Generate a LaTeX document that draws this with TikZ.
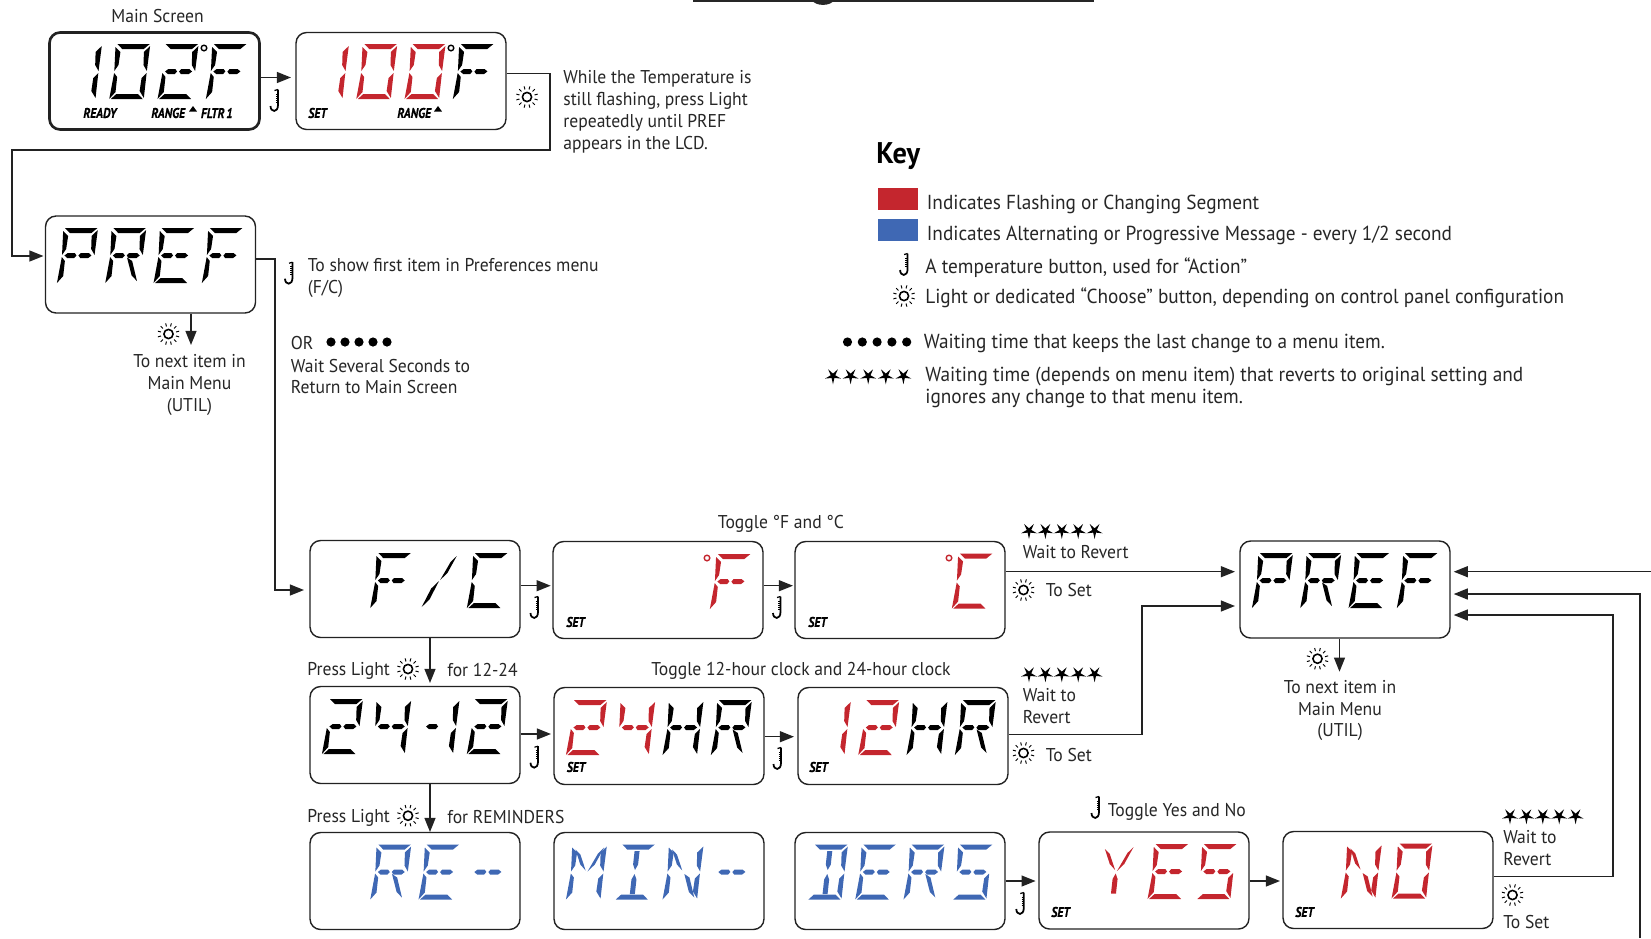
\documentclass[tikz,border=0pt]{standalone}
\usepackage{fontspec}
\setmainfont[FakeStretch=0.95]{PT Sans}
\newfontfamily\lcdlab[FakeStretch=0.84,FakeBold=0.6]{PT Sans}
\usetikzlibrary{arrows.meta,calc}
\def\sega{(1.5,0)--(34,0)--(28.5,5)--(7,5)--cycle}
\def\segd{(6,50)--(27.5,50)--(33,55)--(1,55)--cycle}
\def\segf{(0,3)--(5.5,8)--(5,21)--(1.5,27)--cycle}
\def\sege{(1.5,29)--(5,33)--(5,48)--(-0.5,55)--cycle}
\def\segb{(34.5,2)--(34,27)--(30,21)--(29,8)--cycle}
\def\segc{(34,29)--(34,54)--(29,47)--(29.5,34)--cycle}
\def\segp{(4,27.5)--(7,25)--(14,25)--(16,27.5)--(14,30)--(7,30)--cycle}
\def\segq{(18,27.5)--(20,25)--(28,25)--(31,27.5)--(28,30)--(20,30)--cycle}
\def\segi{(14.5,6.5)--(19.5,6.5)--(19.5,20)--(17,25.5)--(14.5,20)--cycle}
\def\segl{(17,29.5)--(19.5,35)--(19.5,49.5)--(14.5,49.5)--(14.5,35)--cycle}
\def\segh{(3.5,5)--(9,10)--(16,26)--(10,20)--cycle}
\def\segj{(32,3)--(26.5,9)--(18,27)--(24.5,20)--cycle}
\def\segk{(17,28)--(10,35.5)--(2.5,54)--(9.5,46.5)--cycle}
\def\segm{(18.5,29.5)--(24,33)--(31,53)--(25,47.5)--cycle}
\def\chZero{a,b,c,d,e,f}
\def\chOne{b,c}
\def\chTwo{a,b,p,q,e,d}
\def\chFour{f,p,q,b,c}
\def\chF{a,f,e,p,q}
\def\chC{a,f,e,d}
\def\chP{a,f,b,e,p,q}
\def\chR{a,f,b,e,p,q,m}
\def\chE{a,f,e,d,p,q}
\def\chH{f,e,b,c,p,q}
\def\chM{f,e,b,c,h,j}
\def\chI{a,d,i,l}
\def\chN{f,e,b,c,h,m}
\def\chS{a,f,p,q,c,d}
\def\chY{h,j,l}
\def\chD{a,d,b,c,i,l}
\def\chSlash{j,k}
\def\chDash{p}
\def\chDDash{p,q}
\newcommand\lcdch[5]{%
  \begin{scope}[shift={({#1+18.5+48.3*#3},{#2+12})},xslant=0.11]
    \foreach \sname in #5 {%
      \expandafter\let\expandafter\segcur\csname seg\sname\endcsname
      \fill[#4] \segcur;
    }
  \end{scope}}
\newcommand\stars[3]{%
  \foreach \k in {0,1,2,3,4} {%
    \fill[black,shift={({#1+#3*\k},#2)}] (90:8.3)--(126:2.4)--(162:8.3)--(198:2.4)--(234:8.3)--(270:2.4)--(306:8.3)--(342:2.4)--(18:8.3)--(54:2.4)--cycle;
  }}
\newcommand\ledots[3]{%
  \foreach \k in {0,1,2,3,4} {\fill[black] ({#1+#3*\k},#2) circle[radius=4.6];}}
\definecolor{lcdred}{HTML}{C4262E}
\definecolor{lcdblue}{HTML}{3F68B4}
\definecolor{wire}{HTML}{222222}
\tikzset{
  disp/.style={draw=wire,line width=0.8pt,rounded corners=6pt,minimum width=4.2cm,minimum height=1.94cm,inner sep=0pt},
  dispthick/.style={disp,line width=1.5pt},
  lab/.style={anchor=west,inner sep=0pt,align=left,font=\fontsize{10.55}{12.5}\selectfont,text=black!85},
  cen/.style={anchor=center,inner sep=0pt,align=center,font=\fontsize{10.55}{12.5}\selectfont,text=black!85},
  keylab/.style={lab,font=\fontsize{11.55}{12.5}\selectfont},
  tiny/.style={anchor=west,inner sep=0pt,font=\lcdlab\bfseries\itshape\fontsize{8}{8}\selectfont},
  wirearrow/.style={draw=wire,line width=0.85pt,-{Triangle[length=8pt,width=6.2pt]}},
  pics/sunicon/.style={code={
    \draw[black,line width=0.9pt] (0,0) circle[radius=4.6];
    \foreach \aa in {0,30,...,330} {\draw[black,line width=0.55pt] (\aa+15:7.8) -- (\aa+15:11);}
  }},
  pics/thermoicon/.style={code={
    \draw[black,line width=1pt] (3,-10.5) -- (3,5) .. controls (3,13) and (-4.5,12.5) .. (-4.5,6);
    \foreach \yy in {-6,-4,-2,0,2} {\draw[black,line width=0.35pt] (0.8,\yy) -- (3,\yy);}
    \draw[black,line width=0.7pt] (-0.5,-9.5) -- (3,-10.5);
  }},
  pics/uptri/.style={code={\fill[black] (-4,2.5)--(4,2.5)--(0,-3)--cycle;}},
}
\begin{document}
\begin{tikzpicture}[x=0.02cm,y=-0.02cm]
\useasboundingbox (0,0) rectangle (1651,938);
% top fragment
\coordinate (topL) at (693,1);
\coordinate (topR) at (1094,1);
\draw[black!85,line width=1.2pt] (topL) -- (topR);
\fill[black!85] (812,0) .. controls (815,6.5) and (831,6.5) .. (834,0) -- cycle;
% boxes
\node[dispthick] (main) at (154.5,81) {};
\node[disp] (setA) at (401,81) {};
\node[disp] (prefA) at (150.5,264.5) {};
\node[disp] (fc) at (415,589) {};
\node[disp] (setF) at (658,590) {};
\node[disp] (setC) at (900,590) {};
\node[disp] (prefB) at (1345,589.5) {};
\node[disp] (ttf) at (415,735) {};
\node[disp] (hrA) at (659,736) {};
\node[disp] (hrB) at (903,736) {};
\node[disp] (re) at (415,881) {};
\node[disp] (min) at (659,881) {};
\node[disp] (ders) at (900,881) {};
\node[disp] (yes) at (1144,880.5) {};
\node[disp] (no) at (1388,880) {};
% display characters
\lcdch{49}{32}{0}{black}{\chOne}\lcdch{49}{32}{1}{black}{\chZero}\lcdch{49}{32}{2}{black}{\chTwo}\lcdch{49}{32}{3}{black}{\chF}
\lcdch{296}{32}{0}{lcdred}{\chOne}\lcdch{296}{32}{1}{lcdred}{\chZero}\lcdch{296}{32}{2}{lcdred}{\chZero}\lcdch{296}{32}{3}{black}{\chF}
\lcdch{45}{216}{0}{black}{\chP}\lcdch{45}{216}{1}{black}{\chR}\lcdch{45}{216}{2}{black}{\chE}\lcdch{45}{216}{3}{black}{\chF}
\lcdch{310}{541}{1}{black}{\chF}\lcdch{310}{541}{2}{black}{\chSlash}\lcdch{310}{541}{3}{black}{\chC}
\lcdch{553}{542}{3}{lcdred}{\chF}
\lcdch{795}{541.5}{3}{lcdred}{\chC}
\lcdch{1240}{541}{0}{black}{\chP}\lcdch{1240}{541}{1}{black}{\chR}\lcdch{1240}{541}{2}{black}{\chE}\lcdch{1240}{541}{3}{black}{\chF}
\lcdch{310}{687}{0}{black}{\chTwo}\lcdch{310}{687}{1}{black}{\chFour}\lcdch{310}{687}{2}{black}{\chDash}\lcdch{310}{687}{2}{black}{\chOne}\lcdch{310}{687}{3}{black}{\chTwo}
\lcdch{554}{688}{0}{lcdred}{\chTwo}\lcdch{554}{688}{1}{lcdred}{\chFour}\lcdch{554}{688}{2}{black}{\chH}\lcdch{554}{688}{3}{black}{\chR}
\lcdch{798}{688}{0}{lcdred}{\chOne}\lcdch{798}{688}{1}{lcdred}{\chTwo}\lcdch{798}{688}{2}{black}{\chH}\lcdch{798}{688}{3}{black}{\chR}
\lcdch{310}{832.5}{1}{lcdblue}{\chR}\lcdch{310}{832.5}{2}{lcdblue}{\chE}\lcdch{310}{832.5}{3}{lcdblue}{\chDDash}
\lcdch{554}{832.5}{0}{lcdblue}{\chM}\lcdch{554}{832.5}{1}{lcdblue}{\chI}\lcdch{554}{832.5}{2}{lcdblue}{\chN}\lcdch{554}{832.5}{3}{lcdblue}{\chDDash}
\lcdch{795}{832.5}{0}{lcdblue}{\chD}\lcdch{795}{832.5}{1}{lcdblue}{\chE}\lcdch{795}{832.5}{2}{lcdblue}{\chR}\lcdch{795}{832.5}{3}{lcdblue}{\chS}
\lcdch{1039}{832}{0.92}{lcdred}{\chY}\lcdch{1039}{832}{2}{lcdred}{\chE}\lcdch{1039}{832}{3}{lcdred}{\chS}
\lcdch{1283}{831.5}{0.95}{lcdred}{\chN}\lcdch{1283}{831.5}{2}{lcdred}{\chZero}
% degree marks
\draw[black,line width=0.8pt] (204,48) circle[radius=2.8];
\draw[black,line width=0.8pt] (451,48) circle[radius=2.8];
\draw[lcdred,line width=0.8pt] (707,558) circle[radius=2.8];
\draw[lcdred,line width=0.8pt] (949,558) circle[radius=2.8];
% small captions in displays
\node[tiny] (mReady) at (83,113) {READY};
\node[tiny] (mRange) at (151,113) {RANGE};
\node[tiny] (mFltr) at (200.6,113) {FLTR\kern1pt 1};
\pic at (193,109) {uptri};
\node[tiny] (aSet) at (308,113) {SET};
\node[tiny] (aRange) at (397,113) {RANGE};
\pic at (438,109) {uptri};
\node[tiny] (fSet) at (566,622) {SET};
\node[tiny] (cSet) at (808,622) {SET};
\node[tiny] (h1Set) at (566.5,767) {SET};
\node[tiny] (h2Set) at (809,767) {SET};
\node[tiny] (ySet) at (1051,912) {SET};
\node[tiny] (nSet) at (1295,912) {SET};
% free connector ends
\coordinate (a1) at (291,77.5);
\coordinate (b1) at (550,73.3);
\coordinate (b2) at (550,150);
\coordinate (b3) at (12,150);
\coordinate (b4) at (43.5,256);
\coordinate (c1) at (275,259);
\coordinate (c2) at (304,590);
\coordinate (d1) at (191,345);
\coordinate (e1) at (550.7,585.7);
\coordinate (e2) at (793,585.7);
\coordinate (e3) at (1235,571.7);
\coordinate (f1) at (430,683);
\coordinate (g1) at (551,734);
\coordinate (g2) at (794,736.7);
\coordinate (g3) at (1142,734.7);
\coordinate (g4) at (1235,606);
\coordinate (h1) at (430,832);
\coordinate (i1) at (1035.6,881);
\coordinate (i2) at (1280,881);
\coordinate (j1) at (1613,876.7);
\coordinate (j2) at (1453.7,615);
\coordinate (k1) at (1453.7,594);
\coordinate (k2) at (1640,938);
\coordinate (l1) at (1453.7,571.7);
\coordinate (l2) at (1651,571.7);
\coordinate (m1) at (1339.5,671.7);
% connectors
\draw[wirearrow] (main.east |- a1) -- (a1);
\draw[wirearrow] (setA.east |- b1) -- (b1) -- (b2) -- (b3) |- (b4);
\draw[wirearrow] (prefA.east |- c1) -- (c1) |- (c2);
\draw[wirearrow] (prefA.south -| d1) -- (d1);
\draw[wirearrow] (fc.east |- e1) -- (e1);
\draw[wirearrow] (setF.east |- e2) -- (e2);
\draw[wirearrow] (setC.east |- e3) -- (e3);
\draw[wirearrow] (fc.south -| f1) -- (f1);
\draw[wirearrow] (ttf.east |- g1) -- (g1);
\draw[wirearrow] (hrA.east |- g2) -- (g2);
\draw[wirearrow] (hrB.east |- g3) -- (g3) |- (g4);
\draw[wirearrow] (ttf.south -| h1) -- (h1);
\draw[wirearrow] (ders.east |- i1) -- (i1);
\draw[wirearrow] (yes.east |- i2) -- (i2);
\draw[wirearrow] (no.east |- j1) -- (j1) |- (j2);
\draw[wirearrow] (k2) |- (k1);
\draw[wirearrow] (l2) -- (l1);
\draw[wirearrow] (prefB.south -| m1) -- (m1);
% icons
\pic at (527,97) {sunicon};
\pic at (275,100) {thermoicon};
\pic at (289.5,272.7) {thermoicon};
\pic at (168.5,334) {sunicon};
\pic at (535,607) {thermoicon};
\pic at (777.5,607) {thermoicon};
\pic at (535,756.7) {thermoicon};
\pic at (778,758) {thermoicon};
\pic at (1020.8,903) {thermoicon};
\pic at (1096,807) {thermoicon};
\pic at (408,669) {sunicon};
\pic at (408,815.7) {sunicon};
\pic at (1023.5,590) {sunicon};
\pic at (1023.5,753) {sunicon};
\pic at (1512.5,895) {sunicon};
\pic at (1317.5,658.7) {sunicon};
\pic at (904.6,264) {thermoicon};
\pic at (904,296) {sunicon};
% texts
\node[cen] (tMain) at (157.5,16) {Main Screen};
\node[lab] (tWhile) at (563,112) {While the Temperature is\\still flashing, press Light\\repeatedly until PREF\\appears in the LCD.};
\node[lab] (tFirst) at (307.5,278) {To show first item in Preferences menu\\(F/C)};
\node[lab] (tOr) at (290.6,343) {OR};
\ledots{331}{342}{14}
\node[lab] (tWait) at (290.6,376.5) {Wait Several Seconds to\\Return to Main Screen};
\node[cen] (tNextA) at (189.5,385) {To next item in\\Main Menu\\(UTIL)};
\node[cen] (tToggleF) at (781,523.5) {Toggle °F and °C};
\node[cen] (tToggleH) at (801,671) {Toggle 12-hour clock and 24-hour clock};
\node[lab] (tPress1) at (307,671) {Press Light};
\node[lab] (tFor1) at (447,670) {for 12-24};
\node[lab] (tPress2) at (307,818) {Press Light};
\node[lab] (tFor2) at (447,817) {for REMINDERS};
\stars{1029}{530.7}{16.4}
\node[lab] (tRev1) at (1022.4,552) {Wait to Revert};
\node[lab] (tSet1) at (1045.5,590) {To Set};
\stars{1029}{674}{16.4}
\node[lab] (tRev2) at (1022.4,706) {Wait to\\Revert};
\node[lab] (tSet2) at (1045.5,755) {To Set};
\node[lab] (tYesNo) at (1107.6,812) {Toggle Yes and No};
\stars{1510}{816}{16.4}
\node[lab] (tRev3) at (1503,848.5) {Wait to\\Revert};
\node[lab] (tSet3) at (1503,922) {To Set};
\node[cen] (tNextB) at (1340,710.5) {To next item in\\Main Menu\\(UTIL)};
% key
\node[anchor=west,inner sep=0pt,font=\bfseries\fontsize{17}{20}\selectfont] (kTitle) at (876,156) {Key};
\fill[lcdred] (877.5,188) rectangle (918,210);
\fill[lcdblue] (877.5,219) rectangle (918,241);
\node[keylab] (k1t) at (926.5,204) {Indicates Flashing or Changing Segment};
\node[keylab] (k2t) at (926.5,235) {Indicates Alternating or Progressive Message - every 1/2 second};
\node[keylab] (k3t) at (925,268) {A temperature button, used for “Action”};
\node[keylab] (k4t) at (925,298) {Light or dedicated “Choose” button, depending on control panel configuration};
\ledots{847.5}{342}{14.8}
\node[keylab] (k5t) at (923.5,343) {Waiting time that keeps the last change to a menu item.};
\stars{833}{376}{17.6}
\node[keylab] (k6t) at (925,387.5) {Waiting time (depends on menu item) that reverts to original setting and\\ignores any change to that menu item.};
\end{tikzpicture}
\end{document}
